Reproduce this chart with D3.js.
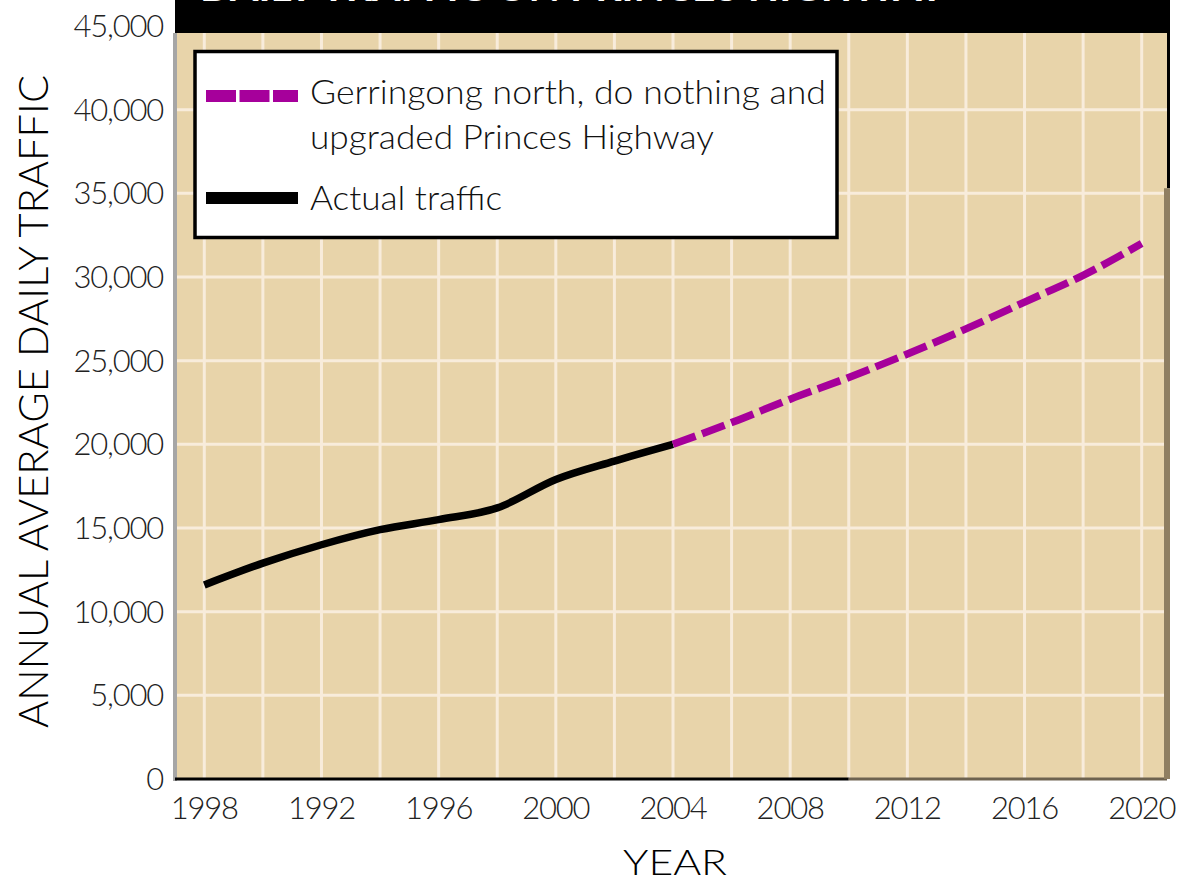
<!DOCTYPE html>
<html>
<head>
<meta charset="utf-8">
<script src="https://cdn.jsdelivr.net/npm/d3@7"></script>
<style>
  body { margin: 0; background: #fff; }
  text { font-family: Lato, "Open Sans", sans-serif; font-weight: 300; }
</style>
</head>
<body>
<svg id="chart"></svg>
<script>
// values
const actualYears = [1988, 1990, 1992, 1994, 1996, 1998, 2000, 2002, 2004];
const actualTraffic = [11600, 12900, 14000, 14900, 15500, 16200, 17900, 19000, 20000];
const forecastYears = [2004, 2006, 2008, 2010, 2012, 2014, 2016, 2018, 2020];
const forecastTraffic = [20000, 21300, 22700, 24000, 25400, 26900, 28500, 30100, 32000];
const xTickYears = [1988, 1992, 1996, 2000, 2004, 2008, 2012, 2016, 2020];
const xTickLabels = ["1998", "1992", "1996", "2000", "2004", "2008", "2012", "2016", "2020"];
const yTicks = [0, 5000, 10000, 15000, 20000, 25000, 30000, 35000, 40000, 45000];
const legendLabels = [["Gerringong north, do nothing and", "upgraded Princes Highway"], ["Actual traffic"]];
const title = "DAILY TRAFFIC ON PRINCES HIGHWAY";

const W = 1177, H = 879;
const margin = { top: 26, right: 6, bottom: 100, left: 175 };
const plotTop = 33;

const svg = d3.select("#chart").attr("width", W).attr("height", H);

const x = d3.scaleLinear().domain([1987, 2021]).range([margin.left, W - margin.right]);
const y = d3.scaleLinear().domain([0, 45000]).range([H - margin.bottom, margin.top]);

const left = x(1987), right = x(2021) - 4;

// plot background
svg.append("rect")
  .attr("x", left).attr("y", plotTop)
  .attr("width", right - left).attr("height", y(0) - plotTop)
  .attr("fill", "#e8d4aa");

// grid
const gridColor = "#f8ecdb";
svg.append("g")
  .selectAll("line")
  .data(d3.range(1988, 2021, 2))
  .join("line")
    .attr("x1", d => x(d)).attr("x2", d => x(d))
    .attr("y1", plotTop).attr("y2", y(0))
    .attr("stroke", gridColor).attr("stroke-width", 3);

svg.append("g")
  .selectAll("line")
  .data(yTicks.filter(d => d > 0))
  .join("line")
    .attr("x1", left).attr("x2", right)
    .attr("y1", d => y(d)).attr("y2", d => y(d))
    .attr("stroke", gridColor).attr("stroke-width", 3);

// frame edges (scan look)
svg.append("line").attr("x1", left).attr("x2", left).attr("y1", plotTop).attr("y2", y(0) + 2)
  .attr("stroke", "#a6a6a6").attr("stroke-width", 4);
svg.append("line").attr("x1", left).attr("x2", x(2010)).attr("y1", y(0)).attr("y2", y(0))
  .attr("stroke", "#000").attr("stroke-width", 3);
svg.append("line").attr("x1", x(2010)).attr("x2", right).attr("y1", y(0)).attr("y2", y(0))
  .attr("stroke", "#6e6350").attr("stroke-width", 3);
svg.append("line").attr("x1", right + 1.5).attr("x2", right + 1.5).attr("y1", 0).attr("y2", y(35300))
  .attr("stroke", "#000").attr("stroke-width", 3);
svg.append("line").attr("x1", right).attr("x2", right).attr("y1", y(35300)).attr("y2", y(0))
  .attr("stroke", "#8f7f62").attr("stroke-width", 6);

// title bar (title mostly cut off at top of the picture)
svg.append("rect").attr("x", left).attr("y", 0)
  .attr("width", right + 3 - left).attr("height", plotTop).attr("fill", "#000");
svg.append("text")
  .attr("x", 200).attr("y", 1)
  .attr("textLength", 745).attr("lengthAdjust", "spacingAndGlyphs")
  .attr("font-size", 34).style("font-weight", "bold").attr("fill", "#fff")
  .text(title);

// lines
const line = d3.line().x(d => x(d[0])).y(d => y(d[1])).curve(d3.curveMonotoneX);

svg.append("path")
  .datum(d3.zip(actualYears, actualTraffic))
  .attr("d", line)
  .attr("fill", "none").attr("stroke", "#000").attr("stroke-width", 7.5);

svg.append("path")
  .datum(d3.zip(forecastYears, forecastTraffic))
  .attr("d", line)
  .attr("fill", "none").attr("stroke", "#a6009b").attr("stroke-width", 7.5)
  .attr("stroke-dasharray", "24,7");

// y axis labels
svg.append("g")
  .selectAll("text")
  .data(yTicks)
  .join("text")
    .attr("x", 163).attr("y", d => y(d) + 11)
    .attr("text-anchor", "end")
    .attr("font-size", 31).attr("letter-spacing", -1.2)
    .attr("fill", "#222")
    .text(d => d3.format(",")(d));

// x axis labels
svg.append("g")
  .selectAll("text")
  .data(xTickYears)
  .join("text")
    .attr("x", d => x(d)).attr("y", 819)
    .attr("text-anchor", "middle")
    .attr("font-size", 31).attr("letter-spacing", -1.2)
    .attr("fill", "#222")
    .text((d, i) => xTickLabels[i]);

// axis titles
svg.append("text")
  .attr("x", 675).attr("y", 875)
  .attr("text-anchor", "middle")
  .attr("font-size", 36).attr("textLength", 104).attr("lengthAdjust", "spacingAndGlyphs")
  .text("YEAR");

svg.append("text")
  .attr("transform", `translate(48,${(75 + 728) / 2}) rotate(-90)`)
  .attr("text-anchor", "middle")
  .attr("font-size", 41).attr("textLength", 653).attr("lengthAdjust", "spacingAndGlyphs")
  .text("ANNUAL AVERAGE DAILY TRAFFIC");

// legend
const lg = svg.append("g");
lg.append("rect")
  .attr("x", 195).attr("y", 51.5).attr("width", 642).attr("height", 186)
  .attr("fill", "#fff").attr("stroke", "#000").attr("stroke-width", 3.5);

lg.append("line").attr("x1", 206).attr("x2", 298).attr("y1", 96).attr("y2", 96)
  .attr("stroke", "#a6009b").attr("stroke-width", 12).attr("stroke-dasharray", "30,3.5");
lg.append("line").attr("x1", 206).attr("x2", 298).attr("y1", 198).attr("y2", 198)
  .attr("stroke", "#000").attr("stroke-width", 12);

const legendWidths = [[516, 404], [192]];
const legendBase = [[104, 149], [210]];
legendLabels.forEach((lines, i) => {
  lines.forEach((t, j) => {
    lg.append("text")
      .attr("x", 310).attr("y", legendBase[i][j])
      .attr("font-size", 34)
      .attr("textLength", legendWidths[i][j]).attr("lengthAdjust", "spacingAndGlyphs")
      .attr("fill", "#111")
      .text(t);
  });
});
</script>
</body>
</html>
